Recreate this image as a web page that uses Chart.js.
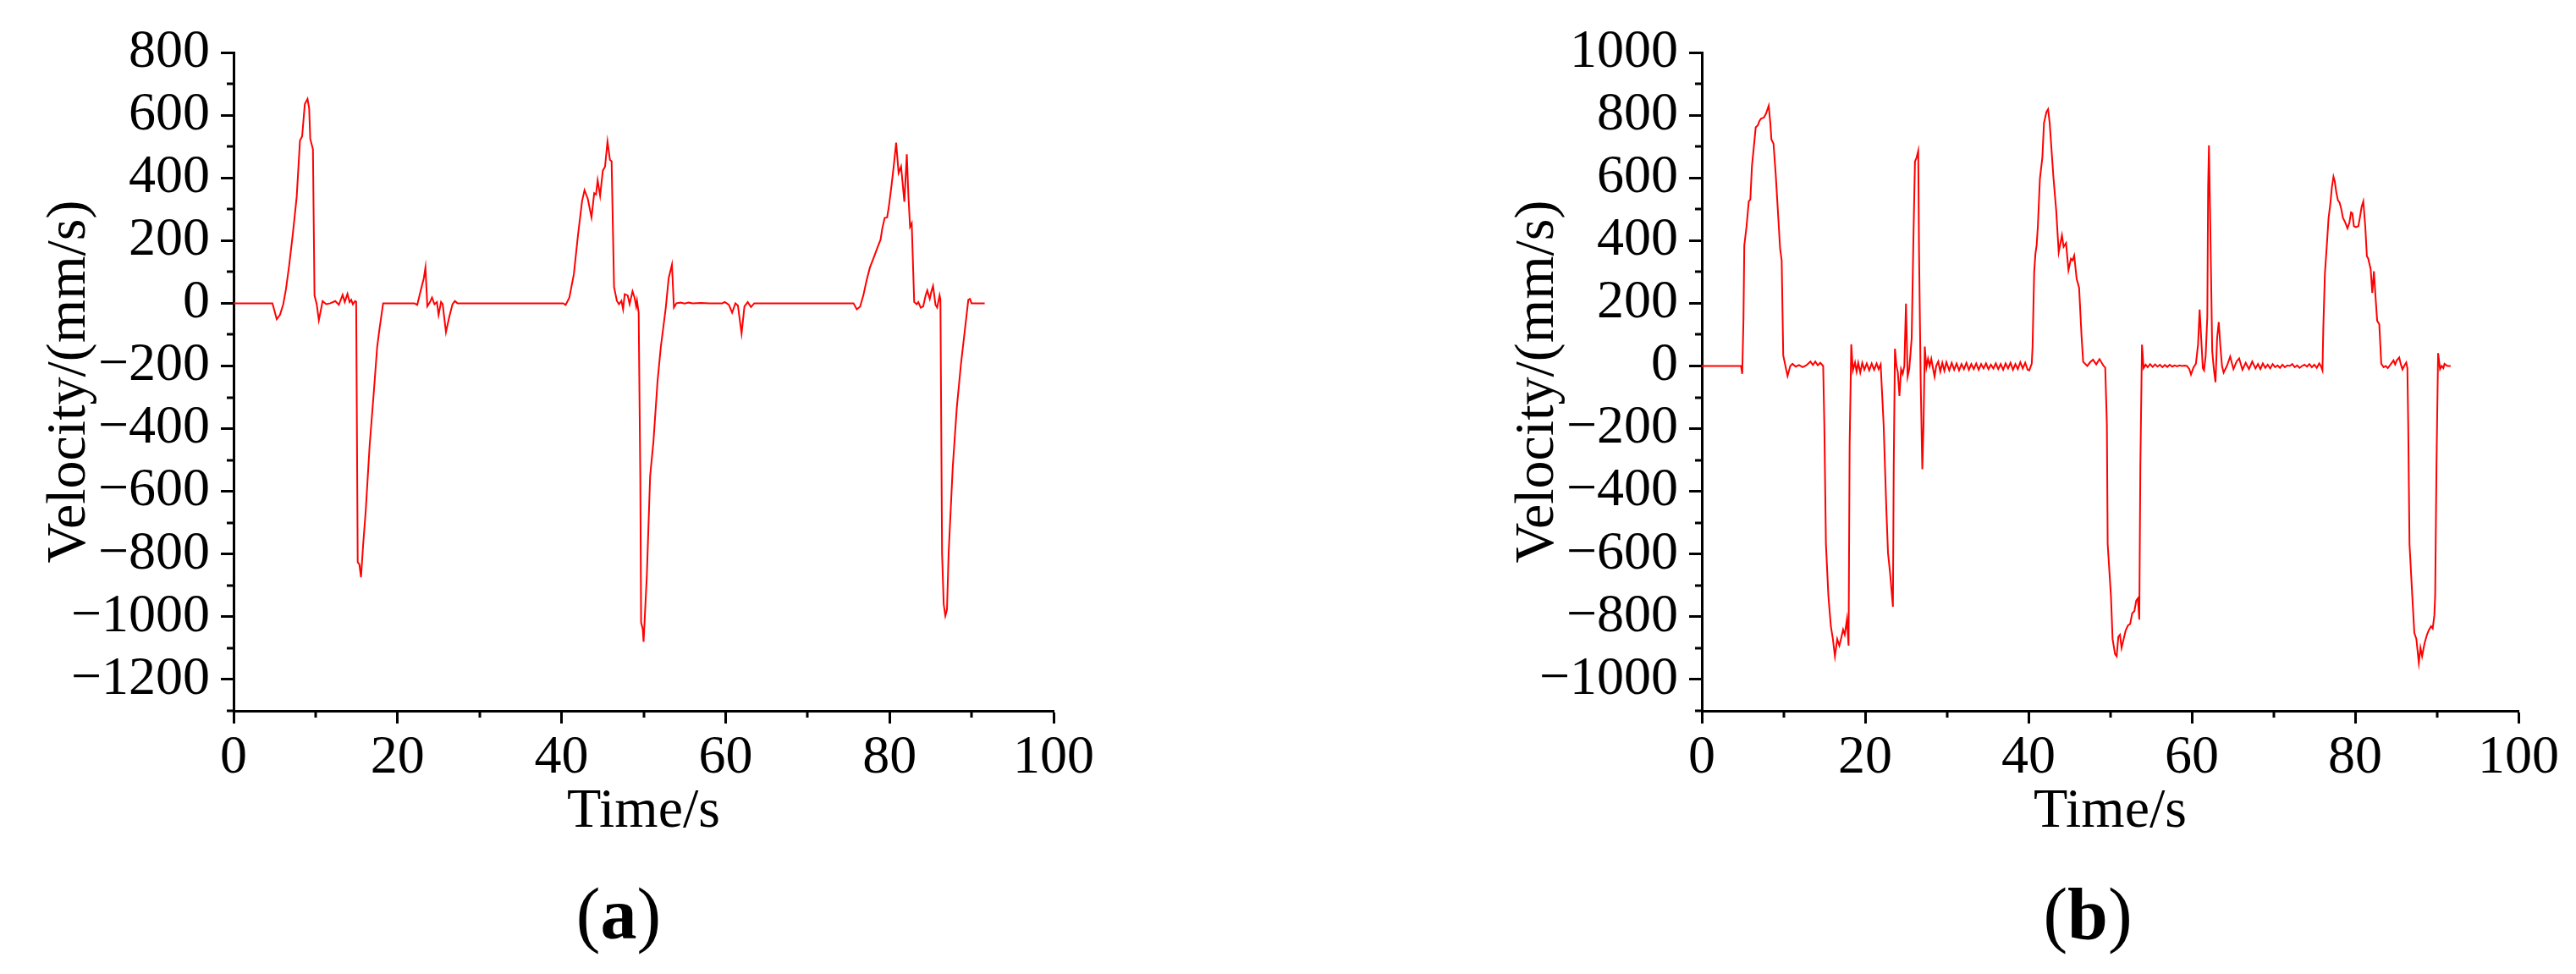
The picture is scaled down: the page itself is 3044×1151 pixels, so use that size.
<!DOCTYPE html>
<html>
<head>
<meta charset="utf-8">
<script src="https://cdn.jsdelivr.net/npm/chart.js@4.4.1/dist/chart.umd.min.js"></script>
<style>
  html, body { margin: 0; padding: 0; background: #fff; }
  #page { position: relative; width: 3044px; height: 1151px; overflow: hidden; background: #fff; }
  canvas { position: absolute; top: 0; }
  .caption {
    position: absolute; top: 1037px; width: 400px; text-align: center;
    font-family: 'Liberation Serif', 'Times New Roman', serif;
    font-size: 86px; line-height: 1; color: #000;
  }
</style>
</head>
<body>
<div id="page">
  <canvas id="chartA" width="1309" height="1010" style="left:0px"></canvas>
  <canvas id="chartB" width="1309" height="1010" style="left:1735px"></canvas>
  <div class="caption" style="left:531px">(<b>a</b>)</div>
  <div class="caption" style="left:2267px">(<b>b</b>)</div>
</div>
<script>
// 數據：(a) 速度曲線
const timeA = [
  0, 4.74, 5.27, 5.66, 6.06, 6.39, 6.78, 7.24, 7.7, 8.1, 8.36, 8.69, 9.02, 9.22, 9.35, 9.68, 9.87,
  10.14, 10.4, 10.86, 11.3, 11.8, 12.4, 12.84, 13.3, 13.56, 13.89, 14.15, 14.35, 14.55, 14.81, 14.95,
  15.14, 15.34, 15.54, 15.8, 16.12, 16.59, 17.12, 17.51, 17.78, 18.24,
  22.05, 22.4, 22.8, 23.2, 23.4, 23.63, 23.96, 24.2, 24.5, 24.8, 25.0, 25.3, 25.5, 25.9, 26.3, 26.7, 26.99, 27.3,
  40.2, 40.5, 40.95, 41.5, 42.0, 42.5, 42.8, 43.2, 43.65, 43.98, 44.2, 44.4, 44.7, 45.03, 45.3, 45.6, 45.9, 46.1,
  46.4, 46.74, 47.0, 47.3, 47.5, 47.7, 48.06, 48.3, 48.65, 48.9, 49.1, 49.2, 49.4, 49.6, 49.7, 49.9, 50.0,
  50.4, 50.8, 51.2, 51.7, 52.1, 52.7, 53.06, 53.46, 53.7, 54.0, 54.5, 55.0, 55.5, 56.0, 57.0, 58.0, 59.6,
  59.9, 60.4, 60.8, 61.2, 61.5, 61.95, 62.3, 62.7, 63.1, 63.5,
  75.6, 76.0, 76.4, 76.8, 77.2, 77.6, 78.1, 78.5, 78.9, 79.1, 79.4, 79.7, 79.9, 80.2, 80.5, 80.8, 81.1, 81.4,
  81.5, 81.8, 82.1, 82.3, 82.5, 82.7, 83.0, 83.3, 83.5, 83.8, 84.1, 84.4, 84.6, 84.9, 85.1, 85.3, 85.6, 85.8,
  86.1, 86.2, 86.4, 86.6, 86.8, 87.0, 87.2, 87.7, 88.2, 88.7, 89.3, 89.6, 89.8, 90.0, 91.6
];
const velA = [
  0, 0, -51, -37, -3, 45, 121, 224, 340, 519, 532, 635, 652, 621, 525, 491, 25,
  -3, -54, 7, -3, 0, 7, -5, 27, 4, 30, 4, 11, -3, 7, 5,
  -826, -833, -874, -771, -661, -455, -277, -140, -85, 0,
  0, -5, 38, 80, 114, -10, 4, 18, -3, 4, -37, 4, -3, -92, -44, -3, 7, 0,
  0, -5, 18, 93, 217, 326, 361, 333, 274, 351, 347, 392, 343, 423, 436, 516, 457, 453,
  52, 8, -3, 8, -19, 29, 25, -3, 38, 18, -10, 8, -30, -551, -1018, -1039, -1080,
  -867, -551, -442, -250, -140, -16, 80, 123, -14, 0, 2, -1, 2, 0, 1, 0, 0,
  4, -5, -30, 0, -7, -96, -10, 4, -12, 0,
  0, -19, -11, 25, 73, 114, 148, 176, 203, 237, 272, 274, 306, 368, 436, 512, 416, 436,
  409, 324, 475, 340, 244, 255, 4, -3, 4, -14, -10, 25, 41, 14, 38, 55, -5, -14,
  25, 11, -798, -960, -997, -977, -798, -524, -332, -195, -58, 11, 14, 0, 0
];

// 數據：(b) 速度曲線
const timeB = [
  0, 4.8, 4.95, 5.1, 5.2, 5.48, 5.75, 5.94, 6.14, 6.4, 6.6, 6.87, 7.07, 7.27, 7.6, 7.86, 8.19, 8.39, 8.52,
  8.78, 9.05, 9.3, 9.58, 9.78, 9.97, 10.24, 10.5, 10.83, 11.1, 11.5, 11.9, 12.35, 12.8, 13.3, 13.6, 13.9,
  14.2, 14.5, 14.86, 15.0, 15.2, 15.5, 15.8, 16.05, 16.3, 16.58, 16.84, 17.04, 17.3, 17.5, 17.77, 17.97,
  18.1, 18.3, 18.5, 18.76, 18.95, 19.15, 19.4, 19.65, 19.9, 20.2, 20.5, 20.8, 21.1, 21.4, 21.65, 21.9,
  22.26, 22.6, 22.8, 23.05, 23.4, 23.5, 23.65, 23.84, 24.0, 24.2, 24.4, 24.6, 24.8, 25.0, 25.2, 25.4,
  25.7, 25.9, 26.1, 26.3, 26.5, 26.6, 26.8, 27.0, 27.15, 27.3, 27.5, 27.7, 27.9, 28.1, 28.3, 28.5, 28.7,
  28.95, 29.2, 29.45, 29.7, 29.95, 30.3, 30.6, 30.9, 31.2, 31.5, 31.8, 32.1, 32.4, 32.7, 33.0, 33.3, 33.6,
  33.9, 34.2, 34.5, 34.8, 35.1, 35.4, 35.7, 36.0, 36.3, 36.6, 36.9, 37.2, 37.5, 37.8, 38.1, 38.4, 38.7,
  39.0, 39.3, 39.6, 39.9, 40.1, 40.4, 40.5, 40.7, 40.85, 41.0, 41.15, 41.4, 41.7, 41.9, 42.2, 42.4, 42.6, 42.87,
  43.07, 43.4, 43.7, 44.1, 44.3, 44.6, 44.9, 45.2, 45.4, 45.6, 45.9, 46.2, 46.5, 46.7, 47.2, 47.55, 47.9,
  48.3, 48.7, 49.2, 49.4, 49.6, 49.7, 50.1, 50.3, 50.6, 50.8, 51.0, 51.2, 51.4, 51.65, 51.9, 52.2, 52.45,
  52.7, 52.97, 53.2, 53.4, 53.57, 53.7, 53.9, 54.1, 54.35, 54.6, 54.9, 55.2, 55.5, 55.8, 56.1, 56.4, 56.7,
  57.0, 57.3, 57.6, 57.9, 58.2, 58.5, 58.8, 59.1, 59.4, 59.7, 59.9, 60.2, 60.5, 60.77, 60.96, 61.15, 61.35,
  61.5, 61.7, 61.9, 62.0, 62.1, 62.25, 62.5, 62.7, 62.9, 63.1, 63.3, 63.5, 63.7, 63.9, 64.3, 64.7, 65.1,
  65.5, 65.8, 66.2, 66.6, 67.0, 67.4, 67.8, 68.1, 68.4, 68.7, 69.0, 69.3, 69.6, 69.9, 70.2, 70.5, 70.8,
  71.1, 71.4, 71.7, 72.0, 72.3, 72.6, 72.9, 73.2, 73.5, 73.8, 74.1, 74.4, 74.7, 75.0, 75.3, 75.6, 75.8,
  76.0, 76.1, 76.3, 76.55, 76.75, 76.95, 77.15, 77.35, 77.5, 77.7, 77.9, 78.1, 78.3, 78.5, 78.8, 79.06,
  79.3, 79.5, 79.66, 79.85, 80.1, 80.4, 80.6, 80.8, 81.0, 81.24, 81.44, 81.6, 81.9, 82.1, 82.3, 82.5, 82.7,
  82.96, 83.2, 83.5, 83.75, 84.0, 84.35, 84.7, 84.9, 85.1, 85.4, 85.6, 85.8, 86.0, 86.26, 86.4, 86.5,
  86.66, 87.0, 87.25, 87.5, 87.8, 88.0, 88.2, 88.5, 88.8, 89.0, 89.3, 89.5, 89.7, 89.8, 89.96, 90.16,
  90.4, 90.6, 90.8, 90.95, 91.3, 91.7
];
const velB = [
  0, 0, -25, 150, 384, 446, 525, 531, 638, 707, 761, 768, 782, 789, 792, 805, 830, 775, 723,
  709, 611, 501, 377, 336, 34, 0, -32, 0, 7, -2, 3, -4, 2, 14, 3, 14,
  2, 10, 0, -185, -569, -734, -830, -871, -926, -871, -892, -871, -841, -857, -809, -892,
  -254, 69, -14, 11, -18, 10, -21, 10, -12, 8, -14, 8, -12, 8, -10, 5,
  -185, -460, -597, -659, -768, -322, 55, 0, -20, -96, -10, -25, 0, 199, -34, -10,
  89, 391, 652, 665, 686, 364, -48, -329, -185, 62, -4, 23, 0, 23, -6, -34, 0,
  14, -18, 10, -15, 12, -14, 10, -12, 8, -14, 6, -10, 10, -12, 6, -10, 8,
  -12, 6, -8, 8, -10, 4, -8, 8, -10, 6, -12, 8, -8, 10, -12, 6, -10,
  12, -8, 10, -12, -14, 7, 60, 300, 358, 385, 446, 597, 665, 775, 810, 819, 775, 672,
  597, 495, 363, 417, 380, 392, 306, 342, 337, 352, 278, 250, 95, 13, 0, 12, 20,
  5, 22, 0, -5, -185, -569, -734, -871, -919, -926, -864, -857, -899, -871, -844, -827, -823,
  -789, -782, -748, -741, -809, -322, 68, -7, 4, -4, 6, -3, 5, -2, 4, -4, 3,
  -3, 4, -2, 2, -1, 2, 0, 1, 0, -10, -27, -5, 7, 69, 180, 89, -7,
  -14, 34, 158, 569, 704, 473, 48, -10, -52, 89, 140, 62, 0, -21, 0, 30, -10,
  15, 24, -12, 10, -10, 14, -8, 6, -10, 8, -6, 4, -8, 6, -4, 2, -6,
  4, -4, 2, 0, 6, -4, 2, -6, 0, 4, -2, 6, -4, 4, -6, 8, 0,
  -14, 117, 295, 391, 473, 514, 569, 604, 590, 553, 528, 521, 501, 473, 457, 439,
  457, 490, 487, 446, 443, 446, 476, 508, 525, 446, 350, 343, 309, 233, 302, 220, 144,
  133, 7, -4, 0, -7, 5, 18, 5, 18, 27, 5, -11, 0, 11, -7, -185,
  -569, -734, -851, -871, -947, -899, -926, -885, -857, -844, -830, -837, -796, -734, -322, 41,
  -10, 0, -7, 7, 0, 0
];

// 刻度
const xTicks = [0, 20, 40, 60, 80, 100];
const yTicksA = [-1200, -1000, -800, -600, -400, -200, 0, 200, 400, 600, 800];
const yTicksB = [-1000, -800, -600, -400, -200, 0, 200, 400, 600, 800, 1000];

const FONT = "'Liberation Serif', 'Times New Roman', serif";

// 次刻度（短刻度線）
const minorTicks = {
  id: 'minorTicks',
  afterDraw(chart, args, opts) {
    const ctx = chart.ctx;
    const xs = chart.scales.x, ys = chart.scales.y;
    const area = chart.chartArea;
    ctx.save();
    ctx.strokeStyle = '#000';
    ctx.lineWidth = 3;
    ctx.beginPath();
    for (let v = xs.min + opts.xStep; v < xs.max; v += opts.xStep * 2) {
      const px = Math.round(xs.getPixelForValue(v));
      ctx.moveTo(px, area.bottom);
      ctx.lineTo(px, area.bottom + 8);
    }
    for (let v = ys.max - opts.yStep; v >= ys.min; v -= opts.yStep * 2) {
      const py = Math.round(ys.getPixelForValue(v));
      ctx.moveTo(area.left - 8, py);
      ctx.lineTo(area.left, py);
    }
    ctx.stroke();
    ctx.restore();
  }
};

function fmt(v) {
  return v < 0 ? '\u2212' + Math.abs(v) : String(v);
}

function makeChart(canvasId, times, vels, yMin, yMax, yTicks, padRight) {
  const ctx = document.getElementById(canvasId).getContext('2d');
  const points = times.map((t, i) => ({ x: t, y: vels[i] }));
  return new Chart(ctx, {
    type: 'line',
    data: {
      datasets: [{
        data: points,
        borderColor: '#ff0000',
        borderWidth: 2,
        pointRadius: 0,
        tension: 0,
        fill: false,
      }],
    },
    options: {
      responsive: false,
      animation: false,
      devicePixelRatio: 1,
      layout: { padding: { top: 62, right: padRight, left: 0, bottom: 0 } },
      plugins: {
        legend: { display: false },
        tooltip: { enabled: false },
        minorTicks: { xStep: 10, yStep: 100 },
      },
      scales: {
        x: {
          type: 'linear',
          min: 0,
          max: 100,
          afterBuildTicks: s => { s.ticks = xTicks.map(v => ({ value: v })); },
          afterFit: s => { s.height = 170; },
          ticks: { font: { family: FONT, size: 64 }, color: '#000', padding: 3, maxRotation: 0, autoSkip: false },
          grid: { drawOnChartArea: false, drawTicks: true, tickLength: 15, tickWidth: 3, tickColor: '#000' },
          border: { display: true, color: '#000', width: 3 },
          title: {
            display: true, text: 'Time/s', color: '#000',
            font: { family: FONT, size: 66, lineHeight: 1.2 },
            padding: { top: 0, bottom: 11 },
          },
        },
        y: {
          min: yMin,
          max: yMax,
          afterBuildTicks: s => { s.ticks = yTicks.map(v => ({ value: v })); },
          afterFit: s => { s.width = 276; },
          ticks: { font: { family: FONT, size: 64 }, color: '#000', padding: 13, autoSkip: false, callback: v => fmt(v) },
          grid: { drawOnChartArea: false, drawTicks: true, tickLength: 15, tickWidth: 3, tickColor: '#000' },
          border: { display: true, color: '#000', width: 3 },
          title: {
            display: true, text: 'Velocity/(mm/s)', color: '#000',
            font: { family: FONT, size: 66, lineHeight: 1.2 },
            padding: { top: 43, bottom: 0 },
          },
        },
      },
    },
    plugins: [minorTicks],
  });
}

makeChart('chartA', timeA, velA, -1300, 800, yTicksA, 64);
makeChart('chartB', timeB, velB, -1100, 1000, yTicksB, 68);
</script>
</body>
</html>
